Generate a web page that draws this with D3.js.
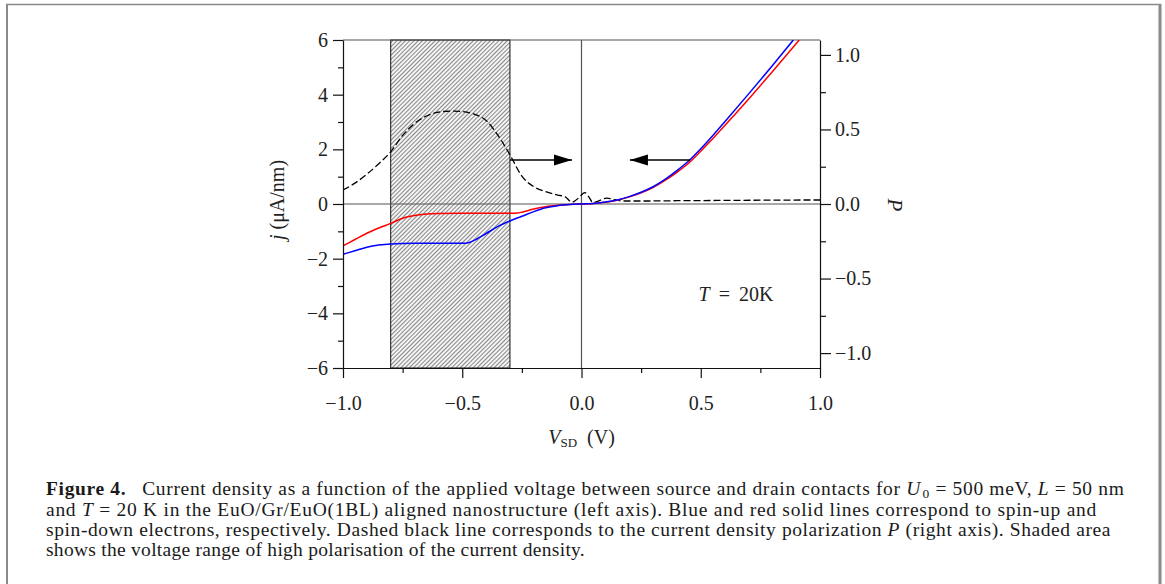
<!DOCTYPE html>
<html>
<head>
<meta charset="utf-8">
<script src="https://cdn.jsdelivr.net/npm/d3@7"></script>
<style>
  body { margin: 0; background: #fff; }
  svg text { font-family: "Liberation Serif", "Times New Roman", serif; }
</style>
</head>
<body>
<script>
// ---- data ----
// polarisation P (right axis), dashed
const voltsP = [-1.0, -0.95, -0.9, -0.85, -0.8, -0.75, -0.7, -0.65, -0.6, -0.55, -0.5, -0.45, -0.4, -0.35, -0.3, -0.25, -0.2, -0.15, -0.1, -0.07, -0.04, -0.02, 0.015, 0.03, 0.048, 0.07, 0.105, 0.14, 0.17, 0.25, 0.4, 0.6, 0.8, 1.0]
const polar  = [0.094, 0.14, 0.20, 0.27, 0.35, 0.46, 0.54, 0.59, 0.616, 0.623, 0.62, 0.603, 0.56, 0.46, 0.33, 0.187, 0.116, 0.083, 0.06, 0.05, 0.012, 0.03, 0.076, 0.05, 0.01, 0.02, 0.04, 0.03, 0.02, 0.02, 0.022, 0.024, 0.026, 0.027]

// spin-up current density (blue)
const voltsUp = [-1.0, -0.95, -0.9, -0.85, -0.8, -0.7, -0.6, -0.5, -0.48, -0.45, -0.4, -0.35, -0.3, -0.25, -0.2, -0.15, -0.1, -0.05, 0, 0.05, 0.1, 0.15, 0.2, 0.25, 0.3, 0.35, 0.4, 0.45, 0.5, 0.55, 0.6, 0.7, 0.8, 0.888]
const jUp     = [-1.84, -1.71, -1.58, -1.50, -1.46, -1.44, -1.44, -1.44, -1.43, -1.33, -1.08, -0.82, -0.62, -0.45, -0.28, -0.14, -0.06, -0.02, 0, 0.015, 0.07, 0.15, 0.27, 0.43, 0.63, 0.90, 1.22, 1.58, 2.02, 2.50, 3.0, 4.02, 5.06, 6.0]

// spin-down current density (red)
const voltsDown = [-1.0, -0.95, -0.9, -0.85, -0.8, -0.75, -0.7, -0.65, -0.6, -0.5, -0.4, -0.3, -0.27, -0.25, -0.2, -0.15, -0.1, -0.05, 0, 0.05, 0.1, 0.15, 0.2, 0.25, 0.3, 0.35, 0.4, 0.45, 0.5, 0.55, 0.6, 0.7, 0.8, 0.913]
const jDown     = [-1.53, -1.30, -1.07, -0.88, -0.71, -0.52, -0.42, -0.37, -0.35, -0.34, -0.34, -0.34, -0.33, -0.30, -0.18, -0.10, -0.05, -0.015, 0, 0.015, 0.065, 0.14, 0.26, 0.41, 0.60, 0.86, 1.16, 1.50, 1.93, 2.39, 2.86, 3.83, 4.84, 6.0]

const shaded = [-0.8, -0.3]
const xMajor = [-1, -0.5, 0, 0.5, 1]
const xMinor = [-0.75, -0.25, 0.25, 0.75]
const yMajor = [-6, -4, -2, 0, 2, 4, 6]
const yMinor = [-5, -3, -1, 1, 3, 5]
const pMajor = [-1, -0.5, 0, 0.5, 1]
const pMinor = [-0.75, -0.25, 0.25, 0.75]

// arrows: [startV, endV, j]
const arrowLeftToRight = [-0.3, -0.04, 1.61]
const arrowRightToLeft = [0.455, 0.203, 1.61]

const captionLines = [
  [{t: "Figure 4.", b: 1}, {t: "\u2002 Current density as a function of the applied voltage between source and drain contacts for "}, {t: "U", i: 1}, {t: "0", sub: 1}, {t: " = 500 meV, "}, {t: "L", i: 1}, {t: " = 50 nm"}],
  [{t: "and "}, {t: "T", i: 1}, {t: " = 20 K in the EuO/Gr/EuO(1BL) aligned nanostructure (left axis). Blue and red solid lines correspond to spin-up and"}],
  [{t: "spin-down electrons, respectively. Dashed black line corresponds to the current density polarization "}, {t: "P", i: 1}, {t: " (right axis). Shaded area"}],
  [{t: "shows the voltage range of high polarisation of the current density."}]
]
const captionRight = [1123, 1097, 1111, 585]

// ---- layout ----
const width = 1165, height = 584
const plot = {left: 343, right: 820, top: 40, bottom: 368}

const svg = d3.select("body").append("svg")
  .attr("width", width)
  .attr("height", height)

// page frame
svg.append("line").attr("x1", 7).attr("x2", 7).attr("y1", 4).attr("y2", height).attr("stroke", "#8a8a8a").attr("stroke-width", 2)
svg.append("line").attr("x1", 6).attr("x2", 1161).attr("y1", 4.5).attr("y2", 4.5).attr("stroke", "#8a8a8a").attr("stroke-width", 1.3)
svg.append("line").attr("x1", 1160).attr("x2", 1160).attr("y1", 4).attr("y2", height).attr("stroke", "#8a8a8a").attr("stroke-width", 3)

const x = d3.scaleLinear().domain([-1, 1]).range([plot.left, plot.right])
const y = d3.scaleLinear().domain([-6, 6]).range([plot.bottom, plot.top])
const yP = d3.scaleLinear().domain([-1.1, 1.1]).range([plot.bottom, plot.top])

const defs = svg.append("defs")
const pat = defs.append("pattern")
  .attr("id", "hatch")
  .attr("patternUnits", "userSpaceOnUse")
  .attr("width", 3).attr("height", 3)
  .attr("patternTransform", "rotate(45)")
pat.append("rect").attr("width", 3).attr("height", 3).attr("fill", "#f4f4f4")
pat.append("line").attr("x1", 0.5).attr("x2", 0.5).attr("y1", 0).attr("y2", 3)
  .attr("stroke", "#7a7a7a").attr("stroke-width", 0.9)

defs.append("clipPath").attr("id", "clip")
  .append("rect")
  .attr("x", plot.left).attr("y", plot.top)
  .attr("width", plot.right - plot.left).attr("height", plot.bottom - plot.top)

defs.append("marker")
  .attr("id", "head")
  .attr("markerUnits", "userSpaceOnUse")
  .attr("markerWidth", 20).attr("markerHeight", 12)
  .attr("refX", 18).attr("refY", 6)
  .attr("orient", "auto")
  .append("path")
  .attr("d", "M0,0.6 L18,6 L0,11.4 Z")
  .attr("fill", "#000")

// shaded range
svg.append("rect")
  .attr("x", x(shaded[0]))
  .attr("y", y(6))
  .attr("width", x(shaded[1]) - x(shaded[0]))
  .attr("height", y(-6) - y(6))
  .attr("fill", "url(#hatch)")
  .attr("stroke", "#111")
  .attr("stroke-width", 1)

// zero lines and top border
svg.append("line").attr("x1", x(-1)).attr("x2", x(1)).attr("y1", y(0)).attr("y2", y(0)).attr("stroke", "#555").attr("stroke-width", 1.2)
svg.append("line").attr("x1", x(0)).attr("x2", x(0)).attr("y1", y(-6)).attr("y2", y(6)).attr("stroke", "#555").attr("stroke-width", 1.2)
svg.append("line").attr("x1", x(-1)).attr("x2", x(1)).attr("y1", y(6)).attr("y2", y(6)).attr("stroke", "#555").attr("stroke-width", 1.2)

const g = svg.append("g").attr("clip-path", "url(#clip)")

const lineJ = d3.line()
  .x(d => x(d[0]))
  .y(d => y(d[1]))
  .curve(d3.curveMonotoneX)

const lineP = d3.line()
  .x(d => x(d[0]))
  .y(d => yP(d[1]))
  .curve(d3.curveMonotoneX)

g.append("path")
  .datum(d3.zip(voltsP, polar))
  .attr("d", lineP)
  .attr("fill", "none")
  .attr("stroke", "#000")
  .attr("stroke-width", 1.3)
  .attr("stroke-dasharray", "7,3")

g.append("path")
  .datum(d3.zip(voltsDown, jDown))
  .attr("d", lineJ)
  .attr("fill", "none")
  .attr("stroke", "#ff0000")
  .attr("stroke-width", 1.5)

g.append("path")
  .datum(d3.zip(voltsUp, jUp))
  .attr("d", lineJ)
  .attr("fill", "none")
  .attr("stroke", "#0000ff")
  .attr("stroke-width", 1.5)

// arrows
for (const a of [arrowLeftToRight, arrowRightToLeft]) {
  svg.append("line")
    .attr("x1", x(a[0])).attr("x2", x(a[1]))
    .attr("y1", y(a[2])).attr("y2", y(a[2]))
    .attr("stroke", "#000")
    .attr("stroke-width", 1.4)
    .attr("marker-end", "url(#head)")
}

// axes
function styleAxis (sel) {
  sel.selectAll("path").attr("stroke", "#111").attr("stroke-width", 1.2)
  sel.selectAll("line").attr("stroke", "#111").attr("stroke-width", 1.2)
  sel.selectAll("text").attr("font-size", 20).attr("fill", "#222")
    .style("font-family", "'Liberation Serif', serif")
}

svg.append("g")
  .attr("transform", "translate(0," + plot.bottom + ")")
  .call(d3.axisBottom(x).tickValues(xMajor).tickFormat(d3.format(".1f")).tickSize(10).tickSizeOuter(0).tickPadding(18))
  .call(styleAxis)
svg.append("g")
  .attr("transform", "translate(0," + plot.bottom + ")")
  .call(d3.axisBottom(x).tickValues(xMinor).tickFormat("").tickSize(5).tickSizeOuter(0))
  .call(styleAxis)
  .call(s => s.select(".domain").remove())

svg.append("g")
  .attr("transform", "translate(" + plot.left + ",0)")
  .call(d3.axisLeft(y).tickValues(yMajor).tickFormat(d3.format("d")).tickSize(10).tickSizeOuter(0).tickPadding(5))
  .call(styleAxis)
svg.append("g")
  .attr("transform", "translate(" + plot.left + ",0)")
  .call(d3.axisLeft(y).tickValues(yMinor).tickFormat("").tickSize(5).tickSizeOuter(0))
  .call(styleAxis)
  .call(s => s.select(".domain").remove())

svg.append("g")
  .attr("transform", "translate(" + plot.right + ",0)")
  .call(d3.axisRight(yP).tickValues(pMajor).tickFormat(d3.format(".1f")).tickSize(11).tickSizeOuter(0).tickPadding(4))
  .call(styleAxis)
svg.append("g")
  .attr("transform", "translate(" + plot.right + ",0)")
  .call(d3.axisRight(yP).tickValues(pMinor).tickFormat("").tickSize(6).tickSizeOuter(0))
  .call(styleAxis)
  .call(s => s.select(".domain").remove())

// axis titles
const xt = svg.append("text")
  .attr("x", (plot.left + plot.right) / 2).attr("y", 444)
  .attr("text-anchor", "middle")
  .attr("font-size", 20).attr("fill", "#222")
xt.append("tspan").attr("font-style", "italic").text("V")
xt.append("tspan").attr("font-size", 13).attr("dy", 3).text("SD")
xt.append("tspan").attr("dy", -3).text("\u2002(V)")

const yt = svg.append("text")
  .attr("transform", "translate(284,200) rotate(-90)")
  .attr("text-anchor", "middle")
  .attr("font-size", 20).attr("fill", "#222")
yt.append("tspan").attr("font-style", "italic").text("j")
yt.append("tspan").text(" (\u03bcA/nm)")

svg.append("text")
  .attr("transform", "translate(888,205) rotate(90)")
  .attr("text-anchor", "middle")
  .attr("font-size", 21).attr("font-style", "italic").attr("fill", "#222")
  .text("P")

const tt = svg.append("text")
  .attr("x", x(0.648)).attr("y", y(-3.55))
  .attr("text-anchor", "middle")
  .attr("font-size", 20).attr("fill", "#222")
  .attr("word-spacing", 4)
tt.append("tspan").attr("font-style", "italic").text("T")
tt.append("tspan").text(" = 20K")

// caption: stretched with letter spacing so each line ends where the original does
const capBase = [495, 515.5, 536, 556]
captionLines.forEach((parts, i) => {
  const t = svg.append("text")
    .attr("x", 46).attr("y", capBase[i])
    .attr("font-size", 19.5).attr("fill", "#1a1a1a")
  parts.forEach((p, k) => {
    const s = t.append("tspan").text(p.t)
    if (p.b) s.attr("font-weight", "bold")
    if (p.i) s.attr("font-style", "italic")
    if (p.sub) s.attr("font-size", 13.5).attr("dy", 3).attr("dx", 1.5)
    else if (k > 0 && parts[k - 1].sub) s.attr("dy", -3)
  })
  const len = t.node().getComputedTextLength()
  const chars = parts.map(p => p.t).join("").length
  const target = captionRight[i] - 46
  t.attr("letter-spacing", (target - len) / chars)
})
</script>
</body>
</html>
